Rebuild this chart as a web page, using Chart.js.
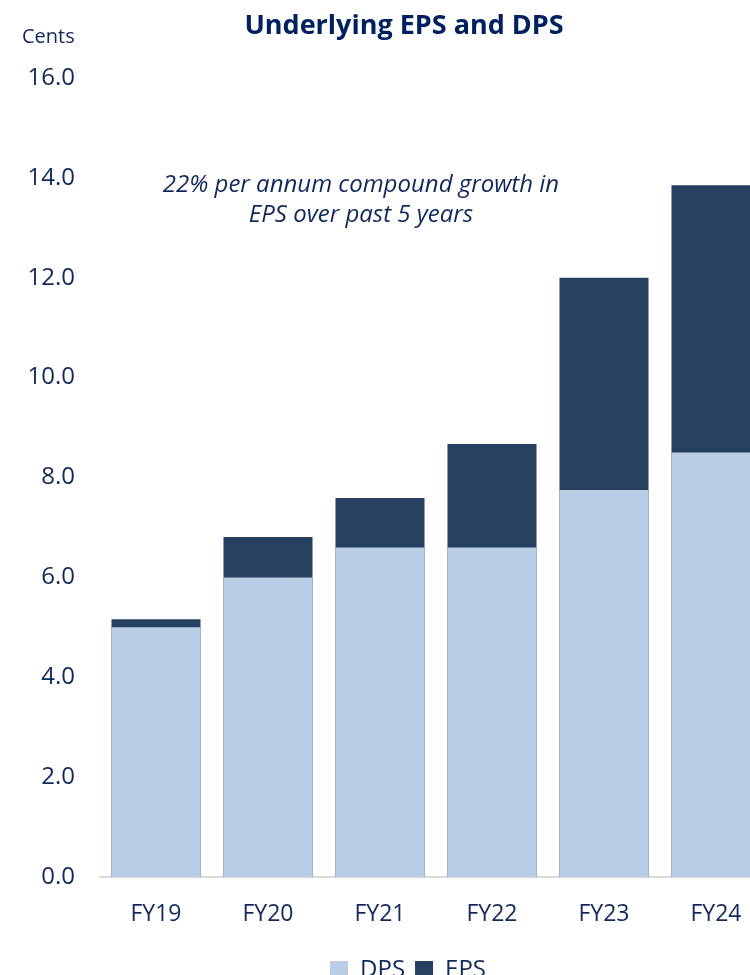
<!DOCTYPE html>
<html>
<head>
<meta charset="utf-8">
<script src="https://cdn.jsdelivr.net/npm/chart.js@4/dist/chart.umd.min.js"></script>
<style>
    html, body { margin: 0; padding: 0; background: #fff; overflow: hidden; }
    #wrap { width: 772px; height: 994px; }
</style>
</head>
<body>
<div id="wrap"><canvas id="chart" width="772" height="994"></canvas></div>
<script>
// Data
const years = ['FY19', 'FY20', 'FY21', 'FY22', 'FY23', 'FY24'];
const dpsValues = [5.0, 6.0, 6.6, 6.6, 7.75, 8.5];
const epsValues = [5.16, 6.81, 7.59, 8.67, 12.0, 13.85];
const yTicks = [0, 2, 4, 6, 8, 10, 12, 14, 16];

const NAVY = '#10285a';
const FONT = '"Open Sans", "Liberation Sans", sans-serif';

// Title, unit label and annotation
const textPlugin = {
    id: 'texts',
    afterLayout(chart) {
        // legend sits a little right of the canvas centre in the reference
        chart.legend.left += 22;
        chart.legend.right += 22;
    },
    afterDraw(chart) {
        const ctx = chart.ctx;
        ctx.save();
        ctx.fillStyle = '#002060';
        ctx.textBaseline = 'middle';
        ctx.textAlign = 'center';
        ctx.font = 'bold 27px ' + FONT;
        ctx.fillText('Underlying EPS and DPS', 404, 26);

        ctx.fillStyle = NAVY;
        ctx.textAlign = 'left';
        ctx.font = '20px ' + FONT;
        ctx.fillText('Cents', 22, 37);

        ctx.textAlign = 'center';
        ctx.font = 'italic 24px ' + FONT;
        ctx.fillText('22% per annum compound growth in', 361, 185);
        ctx.fillText('EPS over past 5 years', 361, 215);
        ctx.restore();
    }
};

const ctx = document.getElementById('chart').getContext('2d');
new Chart(ctx, {
    type: 'bar',
    data: {
        labels: years,
        datasets: [
            {
                label: 'DPS',
                data: dpsValues,
                backgroundColor: '#b9cde5',
                borderWidth: 0,
                order: 0,
            },
            {
                label: 'EPS',
                data: epsValues,
                backgroundColor: '#27405f',
                borderWidth: 0,
                order: 1,
            },
        ],
    },
    options: {
        responsive: false,
        animation: false,
        layout: { padding: { top: 78, left: 0, right: 0, bottom: 2 } },
        datasets: { bar: { categoryPercentage: 1, barPercentage: 0.795 } },
        plugins: {
            legend: {
                position: 'bottom',
                labels: {
                    boxWidth: 18,
                    boxHeight: 18,
                    padding: 10,
                    color: NAVY,
                    font: { family: FONT, size: 24 },
                },
            },
            tooltip: { enabled: false },
        },
        scales: {
            x: {
                stacked: true,
                grid: { display: false },
                border: { display: true, color: '#d9d9d9', width: 2 },
                ticks: {
                    color: NAVY,
                    padding: 16,
                    font: { family: FONT, size: 23 },
                },
                afterFit(scale) { scale.height = 71; },
            },
            y: {
                stacked: false,
                min: 0,
                max: 16,
                grid: { display: false },
                border: { display: false },
                afterBuildTicks(scale) { scale.ticks = yTicks.map(v => ({ value: v })); },
                ticks: {
                    color: NAVY,
                    padding: 17,
                    font: { family: FONT, size: 24 },
                    callback: value => value.toFixed(1),
                },
                afterFit(scale) { scale.width = 100; },
            },
        },
    },
    plugins: [textPlugin],
});
</script>
</body>
</html>
